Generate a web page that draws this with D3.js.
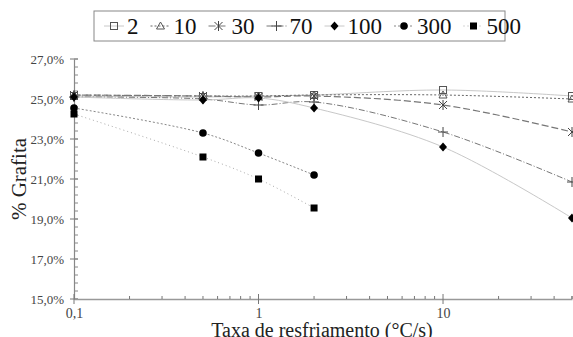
<!DOCTYPE html>
<html>
<head>
<meta charset="utf-8">
<script src="https://cdn.jsdelivr.net/npm/d3@7"></script>
<style>
  body { margin: 0; background: #fff; }
</style>
</head>
<body>
<svg id="chart" width="573" height="337" font-family="'Liberation Serif', 'Times New Roman', Times, serif"></svg>
<script>
// data
var rates = [0.1, 0.5, 1, 2, 10, 50];
var seriesNames = ["2", "10", "30", "70", "100", "300", "500"];
var s2   = [25.15, 25.1, 25.15, 25.2, 25.45, 25.15];
var s10  = [25.2, 25.15, 25.15, 25.2, 25.2, 25.0];
var s30  = [25.2, 25.15, 25.1, 25.15, 24.7, 23.35];
var s70  = [25.1, 25.0, 24.7, 24.85, 23.35, 20.85];
var s100 = [25.1, 24.95, 25.05, 24.55, 22.6, 19.05];
var s300 = [24.55, 23.3, 22.3, 21.2];
var s500 = [24.25, 22.1, 21.0, 19.55];
var yTicks = [15, 17, 19, 21, 23, 25, 27];
var xTicks = [0.1, 1, 10];

var seriesValues = [s2, s10, s30, s70, s100, s300, s500];

// styles per series
var styles = [
  { stroke: "#c8c8c8", dash: null,      width: 1,   marker: "square-open" },
  { stroke: "#666",    dash: "2,2",     width: 1,   marker: "triangle-open" },
  { stroke: "#777",    dash: "7,3",     width: 1.2, marker: "star" },
  { stroke: "#777",    dash: "6,2,1,2", width: 1,   marker: "plus" },
  { stroke: "#c8c8c8", dash: null,      width: 1,   marker: "diamond" },
  { stroke: "#888",    dash: "2,2",     width: 1,   marker: "circle" },
  { stroke: "#aaa",    dash: "1,3",     width: 1,   marker: "square" }
];

var serif = "'Liberation Serif', 'Times New Roman', Times, serif";
var svg = d3.select("#chart");

var x = d3.scaleLog()
    .domain([0.1, 50])
    .range([74, 572]);

var y = d3.scaleLinear()
    .domain([15, 27])
    .range([299, 59]);

// y axis
var yAxis = d3.axisLeft(y)
    .tickValues(yTicks)
    .tickSize(0)
    .tickPadding(10)
    .tickFormat(function (d) { return d3.format(".1f")(d).replace(".", ",") + "%"; });

var gy = svg.append("g")
    .attr("transform", "translate(74,0)")
    .call(yAxis)
    .attr("font-family", serif);
gy.select(".domain").attr("stroke", "#888").attr("stroke-width", 1.2);
gy.selectAll("text").attr("font-size", "13px").attr("fill", "#444");

// y major ticks crossing the axis, minor ticks on right
svg.append("g").selectAll("line")
    .data(yTicks)
    .enter()
    .append("line")
    .attr("x1", 70).attr("x2", 78)
    .attr("y1", function (d) { return y(d); })
    .attr("y2", function (d) { return y(d); })
    .attr("stroke", "#777");

svg.append("g").selectAll("line")
    .data(d3.range(15, 27.01, 0.4))
    .enter()
    .append("line")
    .attr("x1", 74).attr("x2", 78)
    .attr("y1", function (d) { return y(d); })
    .attr("y2", function (d) { return y(d); })
    .attr("stroke", "#888");

// x axis
var xAxis = d3.axisBottom(x)
    .tickValues(xTicks)
    .tickSize(0)
    .tickPadding(9)
    .tickFormat(function (d) { return String(d).replace(".", ","); });

var gx = svg.append("g")
    .attr("transform", "translate(0,299)")
    .call(xAxis)
    .attr("font-family", serif);
gx.select(".domain").attr("stroke", "#999").attr("stroke-width", 1.5);
gx.selectAll("text").attr("font-size", "14px").attr("fill", "#444");

var minorX = [];
[0.1, 1, 10].forEach(function (b) {
  for (var k = 2; k <= 9; k++) { if (b * k <= 50) minorX.push(b * k); }
});
minorX.push(50);

svg.append("g").selectAll("line")
    .data(minorX)
    .enter()
    .append("line")
    .attr("x1", function (d) { return x(d); })
    .attr("x2", function (d) { return x(d); })
    .attr("y1", 296).attr("y2", 299)
    .attr("stroke", "#777");

svg.append("g").selectAll("line")
    .data(xTicks)
    .enter()
    .append("line")
    .attr("x1", function (d) { return x(d); })
    .attr("x2", function (d) { return x(d); })
    .attr("y1", 294).attr("y2", 304)
    .attr("stroke", "#777");

// axis titles
svg.append("text")
    .attr("transform", "translate(26,179) rotate(-90)")
    .attr("text-anchor", "middle")
    .attr("font-size", "21px")
    .attr("fill", "#222")
    .text("% Grafita");

svg.append("text")
    .attr("x", 322)
    .attr("y", 337)
    .attr("text-anchor", "middle")
    .attr("font-size", "20px")
    .attr("fill", "#222")
    .text("Taxa de resfriamento (°C/s)");

// marker drawing
function drawMarker(g, type, cx, cy) {
  if (type == "square-open") {
    g.append("rect").attr("x", cx - 3.5).attr("y", cy - 3.5).attr("width", 7).attr("height", 7)
      .attr("fill", "none").attr("stroke", "#555").attr("stroke-width", 1);
  } else if (type == "triangle-open") {
    g.append("path").attr("d", "M" + cx + "," + (cy - 4) + "L" + (cx + 4) + "," + (cy + 3) + "L" + (cx - 4) + "," + (cy + 3) + "Z")
      .attr("fill", "none").attr("stroke", "#555").attr("stroke-width", 1);
  } else if (type == "star") {
    g.append("path").attr("d", "M" + (cx - 4) + "," + (cy - 4) + "L" + (cx + 4) + "," + (cy + 4) +
        "M" + (cx + 4) + "," + (cy - 4) + "L" + (cx - 4) + "," + (cy + 4) +
        "M" + cx + "," + (cy - 5) + "L" + cx + "," + (cy + 5))
      .attr("stroke", "#444").attr("stroke-width", 1);
  } else if (type == "plus") {
    g.append("path").attr("d", "M" + (cx - 5) + "," + cy + "L" + (cx + 5) + "," + cy +
        "M" + cx + "," + (cy - 5) + "L" + cx + "," + (cy + 5))
      .attr("stroke", "#444").attr("stroke-width", 1);
  } else if (type == "diamond") {
    g.append("path").attr("d", "M" + cx + "," + (cy - 4.5) + "L" + (cx + 4) + "," + cy + "L" + cx + "," + (cy + 4.5) + "L" + (cx - 4) + "," + cy + "Z")
      .attr("fill", "#000");
  } else if (type == "circle") {
    g.append("circle").attr("cx", cx).attr("cy", cy).attr("r", 3.8).attr("fill", "#000");
  } else if (type == "square") {
    g.append("rect").attr("x", cx - 3.5).attr("y", cy - 3.5).attr("width", 7).attr("height", 7)
      .attr("fill", "#000");
  }
}

var line = d3.line()
    .x(function (d) { return x(d[0]); })
    .y(function (d) { return y(d[1]); })
    .curve(d3.curveCatmullRom.alpha(0.5));

seriesValues.forEach(function (vals, i) {
  var pts = vals.map(function (v, j) { return [rates[j], v]; });
  var st = styles[i];
  var g = svg.append("g");
  g.append("path")
      .datum(pts)
      .attr("d", line)
      .attr("fill", "none")
      .attr("stroke", st.stroke)
      .attr("stroke-width", st.width)
      .attr("stroke-dasharray", st.dash);
  pts.forEach(function (p) { drawMarker(g, st.marker, x(p[0]), y(p[1])); });
});

// legend
var legend = svg.append("g");
legend.append("rect")
    .attr("x", 94).attr("y", 11)
    .attr("width", 411).attr("height", 30)
    .attr("fill", "#fff")
    .attr("stroke", "#888")
    .attr("stroke-width", 1);

var lx = 104;
seriesNames.forEach(function (name, i) {
  var st = styles[i];
  var g = legend.append("g");
  g.append("line")
      .attr("x1", lx).attr("x2", lx + 20)
      .attr("y1", 26).attr("y2", 26)
      .attr("stroke", st.stroke)
      .attr("stroke-dasharray", st.dash);
  drawMarker(g, st.marker, lx + 10, 26);
  var t = g.append("text")
      .attr("x", lx + 23)
      .attr("y", 34)
      .attr("font-size", "23px")
      .attr("fill", "#111")
      .text(name);
  lx += 23 + t.node().getComputedTextLength() + 12;
});
</script>
</body>
</html>
